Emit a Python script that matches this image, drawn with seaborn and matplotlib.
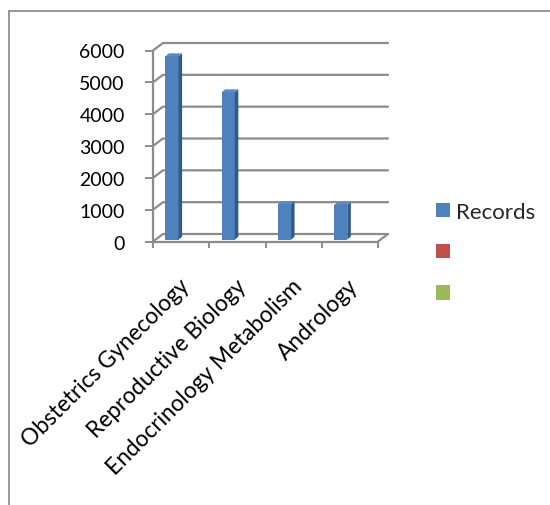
import numpy as np
import pandas as pd
import matplotlib
matplotlib.use("Agg")
import matplotlib.pyplot as plt
import matplotlib.transforms as mtransforms
from matplotlib.patches import Polygon, Patch
from matplotlib.lines import Line2D
import seaborn as sns

# ---- data ----
categories = ["Obstetrics Gynecology", "Reproductive Biology",
              "Endocrinology Metabolism", "Andrology"]
records = [5760, 4630, 1120, 1090]
series2 = [None, None, None, None]   # empty series (red legend entry)
series3 = [None, None, None, None]   # empty series (green legend entry)
series_names = ["Records", " ", "  "]
y_ticks = [0, 1000, 2000, 3000, 4000, 5000, 6000]

# ---- styles ----
colors = ["#4F81BD", "#C0504D", "#9BBB59"]
side_color = "#2F5A8C"
top_color = "#5A8AC6"
grid_color = "#8C8C8C"

sns.set_theme(style="white")
plt.rcParams["font.family"] = ["Lato", "DejaVu Sans"]

W, H, DPI = 550, 506, 100
fig = plt.figure(figsize=(W / DPI, H / DPI), dpi=DPI)
ax_left, ax_right, ax_top, ax_bottom = 153, 378, 51.5, 242.5
ax = fig.add_axes([ax_left / W, 1 - ax_bottom / H,
                   (ax_right - ax_left) / W, (ax_bottom - ax_top) / H])

df = pd.DataFrame({
    "category": categories * 3,
    "series": [series_names[0]] * 4 + [series_names[1]] * 4 + [series_names[2]] * 4,
    "value": pd.to_numeric(pd.Series(records + series2 + series3), errors="coerce"),
})

sns.barplot(data=df, x="category", y="value", hue="series",
            hue_order=series_names, palette=colors, width=0.7,
            saturation=1, errorbar=None, legend=False, ax=ax, zorder=3)

ax.set_ylim(0, 6000)
ax.set_xlim(-0.5, len(categories) - 0.5)

# pixel scales
px_per_cat = (ax_right - ax_left) / len(categories)
px_per_unit = (ax_bottom - ax_top) / 6000.0

# 3D look for bars
shift = mtransforms.ScaledTranslation(4.0 / DPI, 1.8 / DPI, fig.dpi_scale_trans)
bar_tr = ax.transData + shift
sx = 3.5 / px_per_cat
sy = 3.0 / px_per_unit
bars = [p for p in ax.patches if np.isfinite(p.get_height()) and p.get_height() > 0]
for p in bars:
    p.set_transform(bar_tr)
    p.set_edgecolor("none")
    x0 = p.get_x(); x1 = x0 + p.get_width(); h = p.get_height()
    side = Polygon([(x1, 0), (x1 + sx, sy), (x1 + sx, h + sy), (x1, h)],
                   closed=True, facecolor=side_color, edgecolor="none",
                   transform=bar_tr, zorder=3)
    top = Polygon([(x0, h), (x0 + sx, h + sy), (x1 + sx, h + sy), (x1, h)],
                  closed=True, facecolor=top_color, edgecolor="none",
                  transform=bar_tr, zorder=3)
    ax.add_patch(side)
    ax.add_patch(top)

# back wall gridlines with depth
DX = 10.0 / (ax_right - ax_left)
DY = 7.5 / px_per_unit
ytr = ax.get_yaxis_transform()
for v in y_ticks:
    ax.plot([0, DX, 1 + DX], [v, v + DY, v + DY], transform=ytr,
            color=grid_color, lw=1.6, clip_on=False, zorder=0.5)
ax.plot([1, 1 + DX], [0, DY], transform=ytr, color=grid_color, lw=1.6,
        clip_on=False, zorder=0.5)

# spines
for s in ["top", "right"]:
    ax.spines[s].set_visible(False)
for s in ["left", "bottom"]:
    ax.spines[s].set_color(grid_color)
    ax.spines[s].set_linewidth(1.6)
    ax.spines[s].set_zorder(2)

# ticks
ax.set_yticks(y_ticks)
ax.set_yticklabels([str(v) for v in y_ticks])
ax.tick_params(axis="y", which="major", direction="out", length=5.8, width=1.4,
               color=grid_color, pad=14.5, labelsize=14, labelcolor="black", left=True)

ax.set_xticks(range(len(categories)))
ax.set_xticks([i - 0.5 for i in range(len(categories) + 1)], minor=True)
ax.set_xticklabels(categories, rotation=45, ha="right", va="center",
                   rotation_mode="anchor")
ax.tick_params(axis="x", which="major", length=0, pad=29.5, labelsize=16.3,
               labelcolor="black", bottom=True)
ax.tick_params(axis="x", which="minor", direction="out", length=4.3, width=1.4,
               color=grid_color, bottom=True)
lab_shift = mtransforms.ScaledTranslation(5.0 / DPI, 0, fig.dpi_scale_trans)
for lab in ax.get_xticklabels():
    lab.set_transform(lab.get_transform() + lab_shift)

ax.set_xlabel("")
ax.set_ylabel("")
ax.grid(False)
ax.set_facecolor("none")

# legend
handles = [Patch(facecolor=c, edgecolor="none") for c in colors]
fig.legend(handles, ["Records", "", ""], loc="upper left",
           bbox_to_anchor=(436 / W, 1 - 203 / H), frameon=False,
           fontsize=16, handlelength=0.62, handleheight=0.62,
           handletextpad=0.3, labelspacing=0.95, borderpad=0, borderaxespad=0)

# outer border (chart area)
fig.add_artist(Line2D([8.5 / W, 8.5 / W], [0, 1 - 11.5 / H], transform=fig.transFigure,
                      color="#868686", lw=1.2))
fig.add_artist(Line2D([8.5 / W, 1], [1 - 11.5 / H, 1 - 11.5 / H], transform=fig.transFigure,
                      color="#868686", lw=1.2))

fig.savefig("out.png", dpi=DPI, facecolor="white")
